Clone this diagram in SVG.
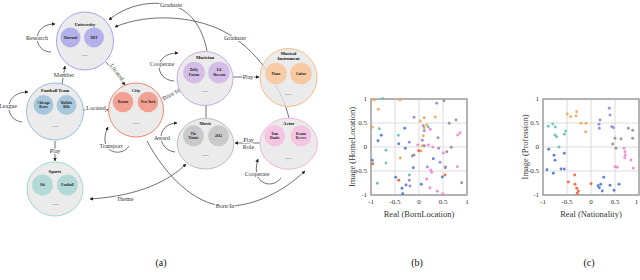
<svg xmlns="http://www.w3.org/2000/svg" width="640" height="280" viewBox="0 0 640 280">
<defs>
<marker id="ah" viewBox="0 0 10 10" refX="9" refY="5" markerWidth="3.6" markerHeight="3.6" orient="auto-start-reverse" markerUnits="userSpaceOnUse"><path d="M0,0 L10,5 L0,10 z" fill="#222"/></marker>
<style>
.edge{fill:none;stroke:#333;stroke-width:0.7}
.el{font-family:"Liberation Serif",serif;font-size:6px;fill:#333;text-anchor:middle;dominant-baseline:central;paint-order:stroke;stroke:#fff;stroke-width:2px;stroke-linejoin:round}
.nd{fill:#e6e6e6;fill-opacity:0.8;stroke-width:1}
.ttl{font-family:"Liberation Serif",serif;font-weight:bold;font-size:4.6px;fill:#111;text-anchor:middle;dominant-baseline:central}
.in{font-family:"Liberation Serif",serif;font-weight:bold;font-size:3.5px;fill:#222;text-anchor:middle;dominant-baseline:central}
.ds{font-family:"Liberation Serif",serif;font-size:6.5px;fill:#666;text-anchor:middle;dominant-baseline:central}
.box{fill:#fff;stroke:#999;stroke-width:1}
.grid{stroke:#dcdcdc;stroke-width:1}
.tk{font-family:"Liberation Serif",serif;font-size:7px;fill:#333;dominant-baseline:central}
.ax{font-family:"Liberation Serif",serif;font-size:8.5px;fill:#333;text-anchor:middle;dominant-baseline:central}
.cap{font-family:"Liberation Serif",serif;font-size:10px;fill:#111;text-anchor:middle}
.o{fill:#f6a44e}.t{fill:#63c0b9}.b{fill:#4d78d2}.p{fill:#9e7fd9}.k{fill:#f283d2}.g{fill:#8f8f8f}.r{fill:#f25a3a}
.dots circle{r:1.45px;fill-opacity:0.9}
</style>
</defs>
<rect width="640" height="280" fill="#fff"/>

<g id="connectors">
  <path class="edge" d="M51,52 C33,52 31,24 55,24" marker-end="url(#ah)"/>
  <text class="el" x="37" y="38">Research</text>
  <path class="edge" d="M22,122 C4,120 3,92 28,92" marker-end="url(#ah)"/>
  <text class="el" x="8" y="106">League</text>
  <path class="edge" d="M62,84 L65,66" marker-end="url(#ah)"/>
  <text class="el" x="64" y="74.5">Member</text>
  <path class="edge" d="M106,62 L125,85" marker-end="url(#ah)"/>
  <text class="el" transform="translate(117,72) rotate(55)">Located</text>
  <path class="edge" d="M83,110 L108,110" marker-end="url(#ah)"/>
  <text class="el" x="96" y="107.5">Located</text>
  <path class="edge" d="M55,141 L55,161" marker-end="url(#ah)"/>
  <text class="el" x="55" y="151">Play</text>
  <path class="edge" d="M129,146 C122,158 96,153 108,127" marker-end="url(#ah)"/>
  <text class="el" x="111" y="146">Transport</text>
  <path class="edge" d="M161,98 L180,89" marker-end="url(#ah)"/>
  <text class="el" transform="translate(171,94.5) rotate(-30)">Born In</text>
  <path class="edge" d="M174,81 C155,80 152,53 178,53" marker-end="url(#ah)"/>
  <text class="el" x="162" y="64">Cooperate</text>
  <path class="edge" d="M233,77 L259,77" marker-end="url(#ah)"/>
  <text class="el" x="248" y="77">Play</text>
  <path class="edge" d="M207,51 C203,30 192,10 171,5 C150,0 125,6 109,20" marker-end="url(#ah)"/>
  <text class="el" x="171" y="5">Graduate</text>
  <path class="edge" d="M289,118 C282,90 262,55 230,35 C200,16 150,12 115,27" marker-end="url(#ah)"/>
  <text class="el" x="235" y="38">Graduate</text>
  <path class="edge" d="M206,105 L206,118"/>
  <path class="edge" d="M260,143 L235,143" marker-end="url(#ah)"/>
  <text class="el" x="248.5" y="139.5">Play</text>
  <text class="el" x="248.5" y="146.8">Role</text>
  <path class="edge" d="M281,178 C272,190 250,184 258,159" marker-end="url(#ah)"/>
  <text class="el" x="257" y="174">Cooperate</text>
  <path class="edge" d="M175,152 C157,150 155,124 177,123" marker-end="url(#ah)"/>
  <text class="el" x="162" y="138">Award</text>
  <path class="edge" d="M186,164 C170,180 140,196 90,199" marker-start="url(#ah)" marker-end="url(#ah)"/>
  <text class="el" x="125" y="199">Theme</text>
  <path class="edge" d="M147,141 C165,175 195,205 225,206 C255,207 285,190 305,171" marker-end="url(#ah)"/>
  <text class="el" x="225" y="206">Born In</text>
</g>

<g id="node-university">
  <ellipse class="nd" cx="85" cy="41" rx="28.5" ry="29" stroke="#a7a3ec"/>
  <text class="ttl" x="85" y="24.5">University</text>
  <circle cx="70.5" cy="37.5" r="10" fill="#b4b1ea"/>
  <circle cx="94" cy="37.5" r="10" fill="#b4b1ea"/>
  <text class="in" x="70.5" y="37.5">Harvard</text>
  <text class="in" x="94" y="37.5">MIT</text>
  <text class="ds" x="85" y="54">—</text>
</g>

<g id="node-football-team">
  <ellipse class="nd" cx="55" cy="111.5" rx="28.5" ry="28.5" stroke="#93bedf"/>
  <text class="ttl" x="55" y="90.5">Football Team</text>
  <circle cx="43.5" cy="105" r="10" fill="#a7c7dd"/>
  <circle cx="66.5" cy="105" r="10" fill="#a7c7dd"/>
  <text class="in" x="43.5" y="102.8">Chicago</text>
  <text class="in" x="43.5" y="107.2">Bears</text>
  <text class="in" x="66.5" y="102.8">Buffalo</text>
  <text class="in" x="66.5" y="107.2">Bills</text>
  <text class="ds" x="55" y="125">—</text>
</g>

<g id="node-city">
  <ellipse class="nd" cx="136" cy="110" rx="27.5" ry="27" stroke="#f2836f"/>
  <text class="ttl" x="136" y="90.5">City</text>
  <circle cx="123" cy="102" r="10.3" fill="#f1a092"/>
  <circle cx="148" cy="102" r="10.3" fill="#f1a092"/>
  <text class="in" x="123" y="102">Boston</text>
  <text class="in" x="148" y="102">New York</text>
  <text class="ds" x="136" y="122">—</text>
</g>

<g id="node-sports">
  <ellipse class="nd" cx="55" cy="189" rx="28" ry="27" stroke="#9fd6d2"/>
  <text class="ttl" x="55" y="171.5">Sports</text>
  <circle cx="42.5" cy="185" r="10.5" fill="#b3dad7"/>
  <circle cx="67.5" cy="185" r="10.5" fill="#b3dad7"/>
  <text class="in" x="42.5" y="185">Ski</text>
  <text class="in" x="67.5" y="185">Football</text>
  <text class="ds" x="55" y="203">—</text>
</g>

<g id="node-musician">
  <ellipse class="nd" cx="205" cy="78.5" rx="28" ry="27" stroke="#c5ace3"/>
  <text class="ttl" x="205" y="57.5">Musician</text>
  <circle cx="194" cy="72.5" r="10.8" fill="#d4bde6"/>
  <circle cx="219" cy="72.5" r="10.8" fill="#d4bde6"/>
  <text class="in" x="194" y="70.3">Dolly</text>
  <text class="in" x="194" y="74.7">Parton</text>
  <text class="in" x="219" y="70.3">Ed</text>
  <text class="in" x="219" y="74.7">Sheeran</text>
  <text class="ds" x="205" y="90">—</text>
</g>

<g id="node-musical-instrument">
  <ellipse class="nd" cx="288.5" cy="77.5" rx="28.5" ry="29" stroke="#f5bd85"/>
  <text class="ttl" x="288.5" y="53">Musical</text>
  <text class="ttl" x="288.5" y="58.5">Instrument</text>
  <circle cx="276" cy="73.5" r="10.8" fill="#f7c9a0" fill-opacity="0.92"/>
  <circle cx="301" cy="73.5" r="10.8" fill="#f7c9a0"/>
  <text class="in" x="276" y="73.5">Piano</text>
  <text class="in" x="301" y="73.5">Guitar</text>
  <text class="ds" x="288.5" y="93">—</text>
</g>

<g id="node-movie">
  <ellipse class="nd" cx="205.5" cy="143.7" rx="28.3" ry="25.3" stroke="#bdbdbd"/>
  <text class="ttl" x="205.5" y="123.3">Movie</text>
  <circle cx="193.5" cy="135.8" r="10.5" fill="#c9c9c9"/>
  <circle cx="218.5" cy="135.8" r="10.5" fill="#c9c9c9"/>
  <text class="in" x="193.5" y="133.6">The</text>
  <text class="in" x="193.5" y="138">Titanic</text>
  <text class="in" x="218.5" y="135.8">2012</text>
  <text class="ds" x="205.5" y="154">—</text>
</g>

<g id="node-actor">
  <ellipse class="nd" cx="288.7" cy="143.7" rx="28.7" ry="25.5" stroke="#f3b4dc"/>
  <text class="ttl" x="288.7" y="123.3">Actor</text>
  <circle cx="274.7" cy="135.8" r="10.5" fill="#f5c6e3"/>
  <circle cx="301" cy="135.8" r="10.5" fill="#f5c6e3"/>
  <text class="in" x="274.7" y="133.6">Tom</text>
  <text class="in" x="274.7" y="138">Hanks</text>
  <text class="in" x="301" y="133.6">Keanu</text>
  <text class="in" x="301" y="138">Reeves</text>
  <text class="ds" x="288.5" y="157.3">—</text>
</g>

<g id="plot-b">
  <rect class="box" x="371" y="99" width="96" height="96"/>
  <path class="grid" d="M395,99V195M419,99V195M443,99V195M371,123H467M371,147H467M371,171H467"/>
  <rect x="371" y="99" width="96" height="96" fill="none" stroke="#999" stroke-width="1"/>
  <g class="tk" text-anchor="end">
    <text x="367" y="99">1</text><text x="367" y="123">0.5</text><text x="367" y="147">0</text><text x="367" y="171">-0.5</text><text x="367" y="195">-1</text>
  </g>
  <g class="tk" text-anchor="middle">
    <text x="371" y="202">-1</text><text x="395" y="202">-0.5</text><text x="419" y="202">0</text><text x="443" y="202">0.5</text><text x="467" y="202">1</text>
  </g>
  <text class="ax" x="419" y="213.5">Real (BornLocation)</text>
  <text class="ax" transform="translate(352,147) rotate(-90)">Image (HomeLocation)</text>
  <g class="dots">
    <g class="o"><circle cx="374.3" cy="100"/><circle cx="400" cy="100"/><circle cx="378.3" cy="109.3"/><circle cx="424.3" cy="117.7"/><circle cx="435.3" cy="117"/><circle cx="420.3" cy="121"/><circle cx="372.3" cy="127.3"/><circle cx="426.7" cy="125"/><circle cx="424.3" cy="127.7"/><circle cx="423.3" cy="135.7"/><circle cx="422.3" cy="145.7"/><circle cx="421" cy="151"/><circle cx="400.3" cy="158"/></g>
    <g class="t"><circle cx="382.7" cy="98.5"/><circle cx="379.3" cy="128.7"/><circle cx="428.3" cy="127"/><circle cx="398.3" cy="135.3"/><circle cx="386" cy="150.3"/><circle cx="386" cy="163"/><circle cx="409.3" cy="175"/><circle cx="377.3" cy="183.3"/></g>
    <g class="b"><circle cx="404.7" cy="128.3"/><circle cx="381.3" cy="135.3"/><circle cx="378" cy="140.7"/><circle cx="398.7" cy="143.7"/><circle cx="405.3" cy="148.3"/><circle cx="433.3" cy="158.7"/><circle cx="372.3" cy="160.3"/><circle cx="413.3" cy="167.7"/><circle cx="442.3" cy="177"/><circle cx="395.7" cy="177.3"/><circle cx="406" cy="185"/><circle cx="421.3" cy="184.3"/><circle cx="402" cy="188.3"/><circle cx="402.7" cy="193.7"/></g>
    <g class="p"><circle cx="436.7" cy="103.3"/><circle cx="414" cy="117.3"/><circle cx="423.3" cy="125.7"/><circle cx="424.3" cy="130.7"/><circle cx="438" cy="137.7"/><circle cx="422.3" cy="140.3"/><circle cx="409.3" cy="142.3"/><circle cx="438.7" cy="148.3"/><circle cx="440" cy="162.3"/><circle cx="427.3" cy="167"/><circle cx="445.3" cy="167.7"/><circle cx="409.3" cy="180.3"/><circle cx="410" cy="186"/></g>
    <g class="k"><circle cx="430.3" cy="129.3"/><circle cx="460" cy="132.7"/><circle cx="457.7" cy="135"/><circle cx="417.7" cy="145"/><circle cx="428.3" cy="145"/><circle cx="432.7" cy="147"/><circle cx="443.3" cy="153"/><circle cx="430.7" cy="170"/><circle cx="431.7" cy="172.3"/><circle cx="457.3" cy="166.7"/><circle cx="426.7" cy="179"/><circle cx="430" cy="187.7"/><circle cx="437.3" cy="191.3"/><circle cx="442.7" cy="193.7"/></g>
    <g class="g"><circle cx="444" cy="100.7"/><circle cx="456" cy="120"/><circle cx="449.3" cy="123.3"/><circle cx="424.3" cy="145.7"/><circle cx="451.3" cy="147.3"/><circle cx="446.7" cy="151.7"/><circle cx="414" cy="155"/><circle cx="412.3" cy="156"/><circle cx="461.7" cy="182.7"/><circle cx="445.5" cy="167"/></g>
    <g class="r"><circle cx="418.7" cy="150.7"/><circle cx="372.7" cy="163.7"/><circle cx="445" cy="175"/><circle cx="398.7" cy="180.3"/></g>
  </g>
</g>

<g id="plot-c">
  <rect class="box" x="543" y="99" width="96" height="96"/>
  <path class="grid" d="M567,99V195M591,99V195M615,99V195M543,123H639M543,147H639M543,171H639"/>
  <rect x="543" y="99" width="96" height="96" fill="none" stroke="#999" stroke-width="1"/>
  <g class="tk" text-anchor="end">
    <text x="539" y="99">1</text><text x="539" y="123">0.5</text><text x="539" y="147">0</text><text x="539" y="171">-0.5</text><text x="539" y="195">-1</text>
  </g>
  <g class="tk" text-anchor="middle">
    <text x="543" y="202">-1</text><text x="567" y="202">-0.5</text><text x="591" y="202">0</text><text x="615" y="202">0.5</text><text x="636.5" y="202">1</text>
  </g>
  <text class="ax" x="591" y="213.5">Real (Nationality)</text>
  <text class="ax" transform="translate(525,147) rotate(-90)">Image (Profession)</text>
  <g class="dots">
    <g class="o"><circle cx="576.7" cy="111.7"/><circle cx="567.3" cy="114"/><circle cx="570.7" cy="116.7"/><circle cx="576" cy="116"/><circle cx="581" cy="123.3"/><circle cx="586" cy="123.3"/><circle cx="585.7" cy="131.7"/></g>
    <g class="p"><circle cx="609.3" cy="108.3"/><circle cx="610" cy="115"/><circle cx="600" cy="120"/><circle cx="599" cy="124.3"/><circle cx="599.3" cy="128.3"/><circle cx="611.7" cy="126.7"/><circle cx="613.5" cy="127.7"/></g>
    <g class="t"><circle cx="548.3" cy="126.3"/><circle cx="552.7" cy="124"/><circle cx="555.3" cy="127"/><circle cx="565.7" cy="131"/><circle cx="564.3" cy="134.3"/><circle cx="555" cy="135"/><circle cx="556.7" cy="136.7"/><circle cx="559" cy="147"/></g>
    <g class="g"><circle cx="628.3" cy="128.3"/><circle cx="632.7" cy="130.3"/><circle cx="615" cy="138.3"/><circle cx="621" cy="139"/><circle cx="632.7" cy="138.3"/><circle cx="612.7" cy="144"/><circle cx="616" cy="148.3"/></g>
    <g class="k"><circle cx="624" cy="148.3"/><circle cx="625" cy="151.7"/><circle cx="625.3" cy="155"/><circle cx="624.7" cy="157.7"/><circle cx="631" cy="160"/><circle cx="615" cy="166.7"/><circle cx="617.3" cy="167.3"/><circle cx="633.3" cy="168.3"/></g>
    <g class="b"><circle cx="548.7" cy="149.3"/><circle cx="564.3" cy="153.3"/><circle cx="554" cy="155.3"/><circle cx="555" cy="160.3"/><circle cx="547" cy="169.7"/><circle cx="561" cy="169"/><circle cx="564.3" cy="169"/><circle cx="553.3" cy="173.3"/><circle cx="603.7" cy="177.3"/><circle cx="598" cy="185.7"/><circle cx="600.7" cy="184.3"/><circle cx="610" cy="185.3"/><circle cx="619" cy="184.3"/><circle cx="599.3" cy="187.7"/><circle cx="602.3" cy="191"/><circle cx="614" cy="190.3"/></g>
    <g class="r"><circle cx="574.7" cy="175"/><circle cx="568.3" cy="182"/><circle cx="591" cy="183.7"/><circle cx="575" cy="184.3"/><circle cx="576.7" cy="188.3"/><circle cx="578.3" cy="191"/><circle cx="577.3" cy="193.3"/></g>
  </g>
</g>

<text class="cap" x="161" y="266">(a)</text>
<text class="cap" x="417" y="266">(b)</text>
<text class="cap" x="589" y="266">(c)</text>
</svg>
